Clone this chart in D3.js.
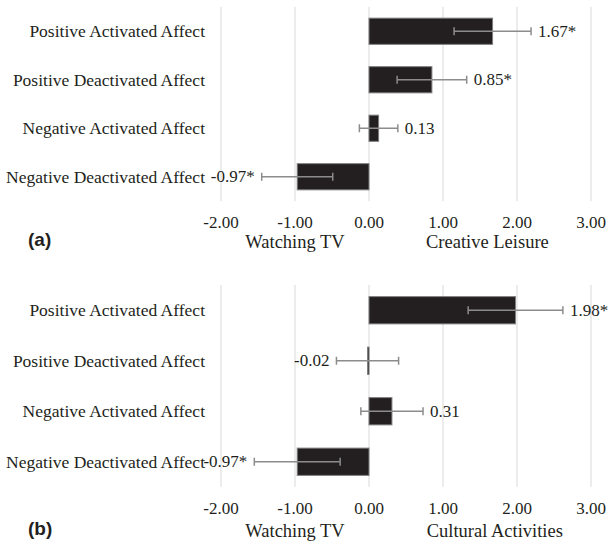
<!DOCTYPE html>
<html>
<head>
<meta charset="utf-8">
<script src="https://cdn.jsdelivr.net/npm/d3@7/dist/d3.min.js"></script>
<style>
  html, body { margin: 0; padding: 0; background: #ffffff; }
  svg { display: block; }
  text { font-family: "Liberation Serif", "Times New Roman", serif; fill: #231f20; }
</style>
</head>
<body>
<svg id="chart" width="611" height="543"></svg>
<script>
// ---- data ----
const categories = ["Positive Activated Affect", "Positive Deactivated Affect", "Negative Activated Affect", "Negative Deactivated Affect"];
const tickValues = [-2, -1, 0, 1, 2, 3];
const tickLabels = ["-2.00", "-1.00", "0.00", "1.00", "2.00", "3.00"];

const panelLetters = ["(a)", "(b)"];
const leftTitles = ["Watching TV", "Watching TV"];
const rightTitles = ["Creative Leisure", "Cultural Activities"];

const valuesA = [1.67, 0.85, 0.13, -0.97];
const errorsA = [0.52, 0.47, 0.26, 0.48];
const labelsA = ["1.67*", "0.85*", "0.13", "-0.97*"];

const valuesB = [1.98, -0.02, 0.31, -0.97];
const errorsB = [0.64, 0.42, 0.42, 0.58];
const labelsB = ["1.98*", "-0.02", "0.31", "-0.97*"];

// ---- drawing ----
const svg = d3.select("#chart");
const x = d3.scaleLinear().domain([-2, 3]).range([221, 591]);

const panels = [
  { top: 7, bottom: 201, titleDy: 47, letterDy: 45, rightTitleAt: 1.6, values: valuesA, errors: errorsA, labels: labelsA },
  { top: 285, bottom: 487, titleDy: 50, letterDy: 48, rightTitleAt: 1.7, values: valuesB, errors: errorsB, labels: labelsB }
];

panels.forEach((p, pi) => {
  const g = svg.append("g");
  const y = d3.scaleBand().domain(categories).range([p.top, p.bottom]).paddingInner(0.46).paddingOuter(0.23);

  // gridlines
  g.selectAll("line.grid").data(tickValues).join("line")
    .attr("class", "grid")
    .attr("x1", d => x(d)).attr("x2", d => x(d))
    .attr("y1", p.top).attr("y2", p.bottom)
    .attr("stroke", "#d9d9d9").attr("stroke-width", 1);

  // tick labels
  g.selectAll("text.tick").data(tickValues).join("text")
    .attr("class", "tick")
    .attr("x", d => x(d))
    .attr("y", p.bottom + 27)
    .attr("text-anchor", "middle")
    .attr("font-size", 17)
    .text((d, i) => tickLabels[i]);

  // category labels
  g.selectAll("text.cat").data(categories).join("text")
    .attr("class", "cat")
    .attr("x", 205)
    .attr("y", d => y(d) + y.bandwidth() / 2)
    .attr("dy", "0.33em")
    .attr("text-anchor", "end")
    .attr("font-size", 17.5)
    .text(d => d);

  const rows = categories.map((c, i) => ({ c, v: p.values[i], e: p.errors[i], l: p.labels[i] }));

  // bars
  g.selectAll("rect.bar").data(rows).join("rect")
    .attr("class", "bar")
    .attr("x", d => x(Math.min(0, d.v)))
    .attr("width", d => Math.max(1.5, Math.abs(x(d.v) - x(0))))
    .attr("y", d => y(d.c))
    .attr("height", y.bandwidth())
    .attr("fill", "#231f20")
    .attr("stroke", "#7f7f7f")
    .attr("stroke-width", 1);

  // error bars
  const eg = g.selectAll("g.err").data(rows).join("g").attr("class", "err")
    .attr("stroke", "#8c8c8c").attr("stroke-width", 1.5);
  eg.append("line")
    .attr("x1", d => x(d.v - d.e)).attr("x2", d => x(d.v + d.e))
    .attr("y1", d => y(d.c) + y.bandwidth() / 2).attr("y2", d => y(d.c) + y.bandwidth() / 2);
  eg.append("line")
    .attr("x1", d => x(d.v - d.e)).attr("x2", d => x(d.v - d.e))
    .attr("y1", d => y(d.c) + y.bandwidth() / 2 - 4).attr("y2", d => y(d.c) + y.bandwidth() / 2 + 4);
  eg.append("line")
    .attr("x1", d => x(d.v + d.e)).attr("x2", d => x(d.v + d.e))
    .attr("y1", d => y(d.c) + y.bandwidth() / 2 - 4).attr("y2", d => y(d.c) + y.bandwidth() / 2 + 4);

  // value labels
  g.selectAll("text.val").data(rows).join("text")
    .attr("class", "val")
    .attr("x", d => d.v >= 0 ? x(d.v + d.e) + 7 : x(d.v - d.e) - 7)
    .attr("y", d => y(d.c) + y.bandwidth() / 2)
    .attr("dy", "0.33em")
    .attr("text-anchor", d => d.v >= 0 ? "start" : "end")
    .attr("font-size", 17)
    .text(d => d.l);

  // axis titles
  g.append("text")
    .attr("x", x(-1)).attr("y", p.bottom + p.titleDy)
    .attr("text-anchor", "middle").attr("font-size", 18.5)
    .text(leftTitles[pi]);
  g.append("text")
    .attr("x", x(p.rightTitleAt)).attr("y", p.bottom + p.titleDy)
    .attr("text-anchor", "middle").attr("font-size", 18.5)
    .text(rightTitles[pi]);

  // panel letter
  g.append("text")
    .attr("x", 28).attr("y", p.bottom + p.letterDy)
    .style("font-family", "'Liberation Sans', Arial, sans-serif")
    .attr("font-weight", "bold").attr("font-size", 19)
    .text(panelLetters[pi]);
});
</script>
</body>
</html>
